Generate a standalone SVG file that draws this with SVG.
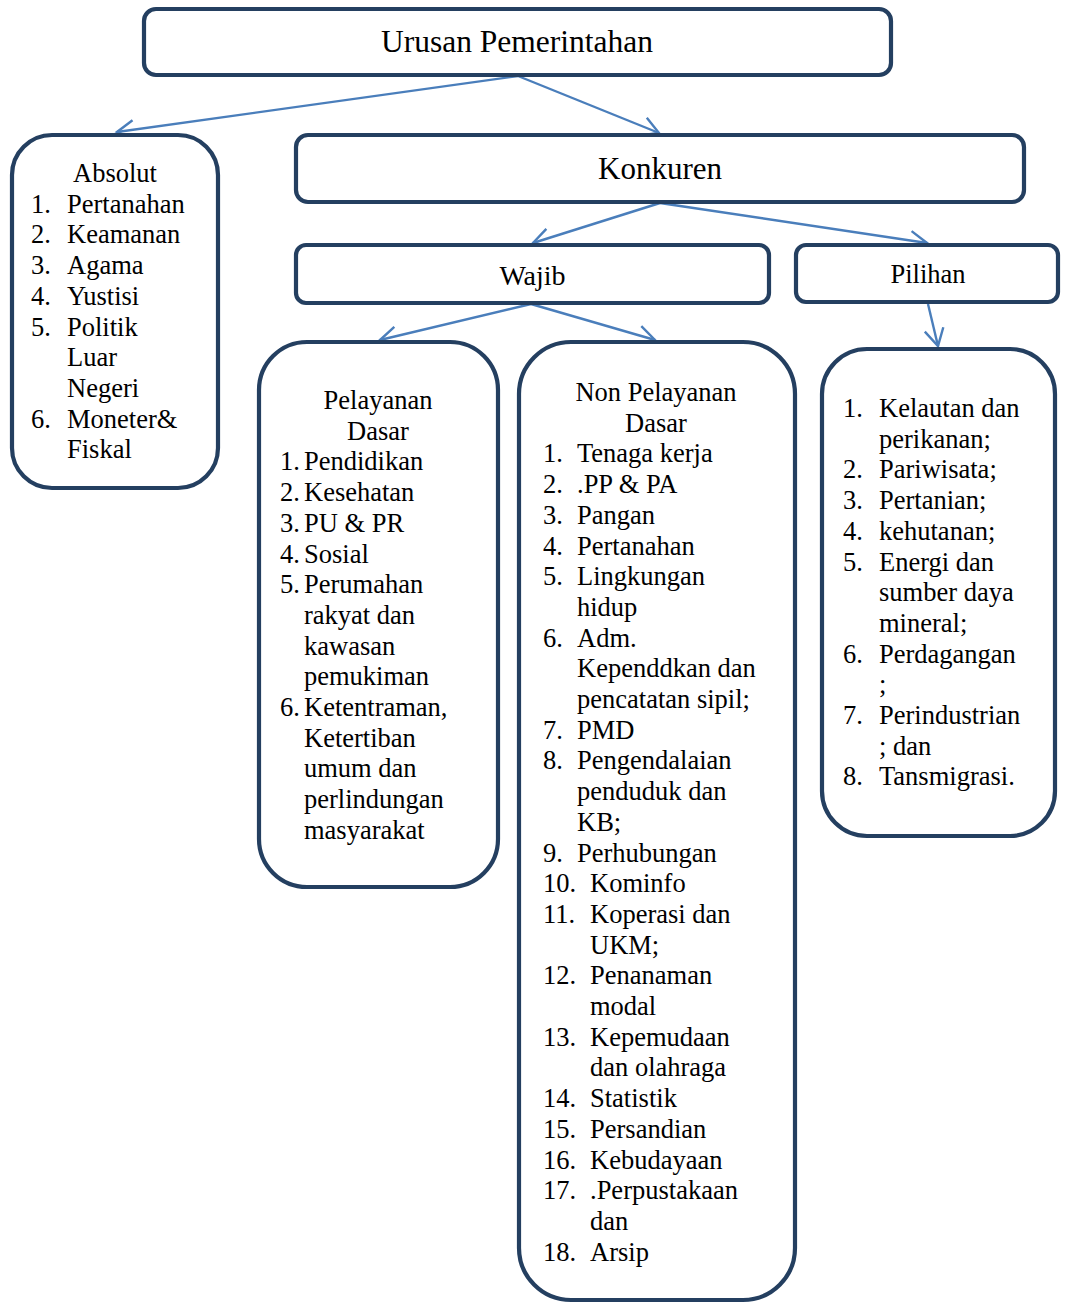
<svg xmlns="http://www.w3.org/2000/svg" width="1066" height="1303" viewBox="0 0 1066 1303" font-family="'Liberation Serif', 'Times New Roman', Tinos, serif">
  <defs>
    <style>
      .box { fill: #ffffff; stroke: #243F60; stroke-width: 4.2; }
      .link { fill: none; stroke: #4A7EBB; stroke-width: 2.4; marker-end: url(#open); }
      text { fill: #000000; }
      .t { font-size: 26.5px; }
      .mid { text-anchor: middle; }
    </style>
    <marker id="open" markerUnits="userSpaceOnUse" markerWidth="40" markerHeight="40" viewBox="-20 -20 40 40" refX="0" refY="0" orient="auto">
      <path d="M -17,-9.5 L 0,0 L -17,9.5" fill="none" stroke="#4A7EBB" stroke-width="2.4"/>
    </marker>
  </defs>

  <rect width="1066" height="1303" fill="#ffffff"/>

  <!-- connectors -->
  <g id="connectors">
    <line class="link" x1="518" y1="76" x2="117" y2="132"/>
    <line class="link" x1="518" y1="76" x2="659" y2="133"/>
    <line class="link" x1="660" y1="203" x2="533" y2="243"/>
    <line class="link" x1="660" y1="203" x2="927" y2="243"/>
    <line class="link" x1="531" y1="304" x2="380" y2="340"/>
    <line class="link" x1="531" y1="304" x2="655" y2="340"/>
    <line class="link" x1="928" y1="304" x2="938" y2="346"/>
  </g>

  <!-- root -->
  <g id="urusan">
    <rect class="box" x="144" y="9" width="747" height="66" rx="12"/>
    <text class="mid" x="517" y="52" font-size="31.5">Urusan Pemerintahan</text>
  </g>

  <!-- absolute affairs -->
  <g id="absolut">
    <rect class="box" x="12" y="135" width="206" height="353" rx="40"/>
    <text class="t mid" x="115" y="182">Absolut</text>
    <text class="t" y="212.7"><tspan x="31">1.</tspan><tspan x="67">Pertanahan</tspan></text>
    <text class="t" y="243.4"><tspan x="31">2.</tspan><tspan x="67">Keamanan</tspan></text>
    <text class="t" y="274.1"><tspan x="31">3.</tspan><tspan x="67">Agama</tspan></text>
    <text class="t" y="304.8"><tspan x="31">4.</tspan><tspan x="67">Yustisi</tspan></text>
    <text class="t" y="335.5"><tspan x="31">5.</tspan><tspan x="67">Politik</tspan></text>
    <text class="t" x="67" y="366.2">Luar</text>
    <text class="t" x="67" y="396.9">Negeri</text>
    <text class="t" y="427.6"><tspan x="31">6.</tspan><tspan x="67">Moneter&amp;</tspan></text>
    <text class="t" x="67" y="458.3">Fiskal</text>
  </g>

  <!-- concurrent affairs -->
  <g id="konkuren">
    <rect class="box" x="296" y="135" width="728" height="67" rx="12"/>
    <text class="mid" x="660" y="178.5" font-size="31">Konkuren</text>
  </g>

  <g id="wajib">
    <rect class="box" x="296" y="245" width="473" height="58" rx="10"/>
    <text class="mid" x="532.5" y="285" font-size="28">Wajib</text>
  </g>

  <g id="pilihan">
    <rect class="box" x="796" y="245" width="262" height="57" rx="10"/>
    <text class="mid" x="928" y="283" font-size="26.5">Pilihan</text>
  </g>

  <!-- mandatory: basic services -->
  <g id="pelayanan-dasar">
    <rect class="box" x="259" y="342" width="239" height="545" rx="48"/>
    <text class="t mid" x="378" y="409">Pelayanan</text>
    <text class="t mid" x="378" y="439.7">Dasar</text>
    <text class="t" y="470.4"><tspan x="280">1.</tspan><tspan x="304">Pendidikan</tspan></text>
    <text class="t" y="501.1"><tspan x="280">2.</tspan><tspan x="304">Kesehatan</tspan></text>
    <text class="t" y="531.8"><tspan x="280">3.</tspan><tspan x="304">PU &amp; PR</tspan></text>
    <text class="t" y="562.5"><tspan x="280">4.</tspan><tspan x="304">Sosial</tspan></text>
    <text class="t" y="593.2"><tspan x="280">5.</tspan><tspan x="304">Perumahan</tspan></text>
    <text class="t" x="304" y="623.9">rakyat dan</text>
    <text class="t" x="304" y="654.6">kawasan</text>
    <text class="t" x="304" y="685.3">pemukiman</text>
    <text class="t" y="716"><tspan x="280">6.</tspan><tspan x="304">Ketentraman,</tspan></text>
    <text class="t" x="304" y="746.7">Ketertiban</text>
    <text class="t" x="304" y="777.4">umum dan</text>
    <text class="t" x="304" y="808.1">perlindungan</text>
    <text class="t" x="304" y="838.8">masyarakat</text>
  </g>

  <!-- mandatory: non-basic services -->
  <g id="non-pelayanan-dasar">
    <rect class="box" x="519" y="342" width="276" height="958" rx="52"/>
    <text class="t mid" x="656" y="401">Non Pelayanan</text>
    <text class="t mid" x="656" y="431.7">Dasar</text>
    <text class="t" y="462.4"><tspan x="543">1.</tspan><tspan x="577">Tenaga kerja</tspan></text>
    <text class="t" y="493.1"><tspan x="543">2.</tspan><tspan x="577">.PP &amp; PA</tspan></text>
    <text class="t" y="523.8"><tspan x="543">3.</tspan><tspan x="577">Pangan</tspan></text>
    <text class="t" y="554.5"><tspan x="543">4.</tspan><tspan x="577">Pertanahan</tspan></text>
    <text class="t" y="585.2"><tspan x="543">5.</tspan><tspan x="577">Lingkungan</tspan></text>
    <text class="t" x="577" y="615.9">hidup</text>
    <text class="t" y="646.6"><tspan x="543">6.</tspan><tspan x="577">Adm.</tspan></text>
    <text class="t" x="577" y="677.3">Kependdkan dan</text>
    <text class="t" x="577" y="708">pencatatan sipil;</text>
    <text class="t" y="738.7"><tspan x="543">7.</tspan><tspan x="577">PMD</tspan></text>
    <text class="t" y="769.4"><tspan x="543">8.</tspan><tspan x="577">Pengendalaian</tspan></text>
    <text class="t" x="577" y="800.1">penduduk dan</text>
    <text class="t" x="577" y="830.8">KB;</text>
    <text class="t" y="861.5"><tspan x="543">9.</tspan><tspan x="577">Perhubungan</tspan></text>
    <text class="t" y="892.2"><tspan x="543">10.</tspan><tspan x="590">Kominfo</tspan></text>
    <text class="t" y="922.9"><tspan x="543">11.</tspan><tspan x="590">Koperasi dan</tspan></text>
    <text class="t" x="590" y="953.6">UKM;</text>
    <text class="t" y="984.3"><tspan x="543">12.</tspan><tspan x="590">Penanaman</tspan></text>
    <text class="t" x="590" y="1015">modal</text>
    <text class="t" y="1045.7"><tspan x="543">13.</tspan><tspan x="590">Kepemudaan</tspan></text>
    <text class="t" x="590" y="1076.4">dan olahraga</text>
    <text class="t" y="1107.1"><tspan x="543">14.</tspan><tspan x="590">Statistik</tspan></text>
    <text class="t" y="1137.8"><tspan x="543">15.</tspan><tspan x="590">Persandian</tspan></text>
    <text class="t" y="1168.5"><tspan x="543">16.</tspan><tspan x="590">Kebudayaan</tspan></text>
    <text class="t" y="1199.2"><tspan x="543">17.</tspan><tspan x="590">.Perpustakaan</tspan></text>
    <text class="t" x="590" y="1229.9">dan</text>
    <text class="t" y="1260.6"><tspan x="543">18.</tspan><tspan x="590">Arsip</tspan></text>
  </g>

  <!-- optional affairs list -->
  <g id="pilihan-list">
    <rect class="box" x="822" y="349" width="233" height="487" rx="45"/>
    <text class="t" y="417"><tspan x="843">1.</tspan><tspan x="879">Kelautan dan</tspan></text>
    <text class="t" x="879" y="447.7">perikanan;</text>
    <text class="t" y="478.4"><tspan x="843">2.</tspan><tspan x="879">Pariwisata;</tspan></text>
    <text class="t" y="509.1"><tspan x="843">3.</tspan><tspan x="879">Pertanian;</tspan></text>
    <text class="t" y="539.8"><tspan x="843">4.</tspan><tspan x="879">kehutanan;</tspan></text>
    <text class="t" y="570.5"><tspan x="843">5.</tspan><tspan x="879">Energi dan</tspan></text>
    <text class="t" x="879" y="601.2">sumber daya</text>
    <text class="t" x="879" y="631.9">mineral;</text>
    <text class="t" y="662.6"><tspan x="843">6.</tspan><tspan x="879">Perdagangan</tspan></text>
    <text class="t" x="879" y="693.3">;</text>
    <text class="t" y="724"><tspan x="843">7.</tspan><tspan x="879">Perindustrian</tspan></text>
    <text class="t" x="879" y="754.7">; dan</text>
    <text class="t" y="785.4"><tspan x="843">8.</tspan><tspan x="879">Tansmigrasi.</tspan></text>
  </g>
</svg>
